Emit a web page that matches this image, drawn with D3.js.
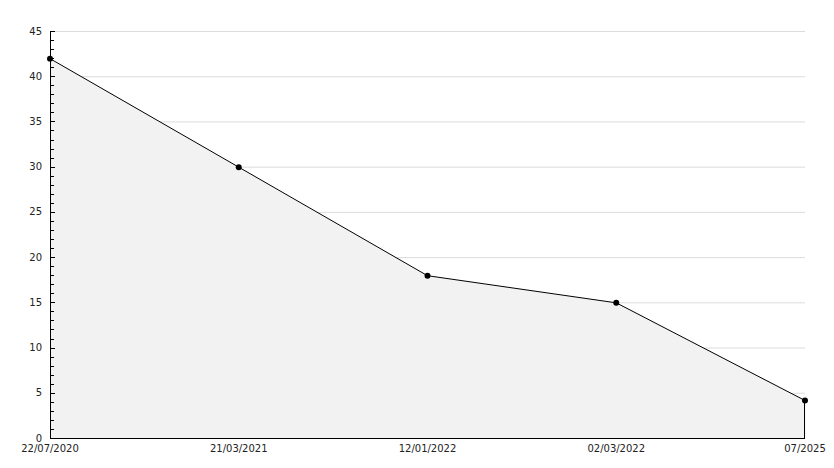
<!DOCTYPE html>
<html><head><meta charset="utf-8">
<script src="https://cdn.jsdelivr.net/npm/d3@7"></script>
<style>body{margin:0;background:#fff}svg{display:block}text{font-family:"DejaVu Sans",sans-serif;font-size:10px;fill:#222}</style>
</head><body><svg id="c" width="834" height="468"></svg>
<script>
const categories = ["22/07/2020","21/03/2021","12/01/2022","02/03/2022","07/2025"];
const values = [42, 30, 18, 15, 4.2];
const yTicks = [0,5,10,15,20,25,30,35,40,45];

const svg = d3.select("#c");
const L = 50, R = 805, T = 31, B = 438;
const x = d3.scalePoint().domain(categories).range([L, R]);
const y = d3.scaleLinear().domain([0, 45]).range([B, T]);
const data = categories.map((c,i)=>({c, v: values[i]}));

// grid
svg.append("g").selectAll("line").data(yTicks.filter(d=>d>0)).join("line")
  .attr("x1", L+5).attr("x2", R).attr("y1", d=>y(d)+0.5).attr("y2", d=>y(d)+0.5)
  .attr("stroke", "#dcdcdc").attr("stroke-width", 1);

// area
const area = d3.area().x(d=>x(d.c)+0.5).y0(y(0)+0.5).y1(d=>y(d.v)+0.5);
svg.append("path").datum(data).attr("d", area).attr("fill", "#f2f2f2").attr("stroke", "none");
// right edge
svg.append("line").attr("x1", x(categories[4])-0.5).attr("x2", x(categories[4])-0.5)
  .attr("y1", y(values[4])).attr("y2", y(0)).attr("stroke", "#000");

// line
const line = d3.line().x(d=>x(d.c)).y(d=>y(d.v)+0.5);
svg.append("path").datum(data).attr("d", line).attr("fill", "none").attr("stroke", "#000").attr("stroke-width", 1);

// axes
svg.append("line").attr("x1", L+0.5).attr("x2", L+0.5).attr("y1", T).attr("y2", B+0.5).attr("stroke", "#000");
svg.append("line").attr("x1", L).attr("x2", R).attr("y1", B+0.5).attr("y2", B+0.5).attr("stroke", "#000");

// minor ticks
const minor = d3.range(1, 45).filter(d=>d%5!==0);
svg.append("g").selectAll("line").data(minor).join("line")
  .attr("x1", L).attr("x2", L+4).attr("y1", d=>Math.round(y(d))+0.5).attr("y2", d=>Math.round(y(d))+0.5).attr("stroke", "#000");
svg.append("g").selectAll("line").data(yTicks).join("line")
  .attr("x1", L).attr("x2", L+5).attr("y1", d=>Math.round(y(d))+0.5).attr("y2", d=>Math.round(y(d))+0.5).attr("stroke", "#000");

// y labels
svg.append("g").selectAll("text").data(yTicks).join("text")
  .attr("x", 42).attr("y", d=>y(d)+3.5).attr("text-anchor", "end").text(d=>d);

// x labels
svg.append("g").selectAll("text").data(categories).join("text")
  .attr("x", d=>x(d)).attr("y", 452).attr("text-anchor", "middle").text(d=>d);

// markers
svg.append("g").selectAll("path").data(data).join("path")
  .attr("transform", d=>`translate(${x(d.c)},${y(d.v)+0.5})`)
  .attr("d", d3.symbol().type(d3.symbolCircle).size(28)).attr("fill", "#000");
</script></body></html>
